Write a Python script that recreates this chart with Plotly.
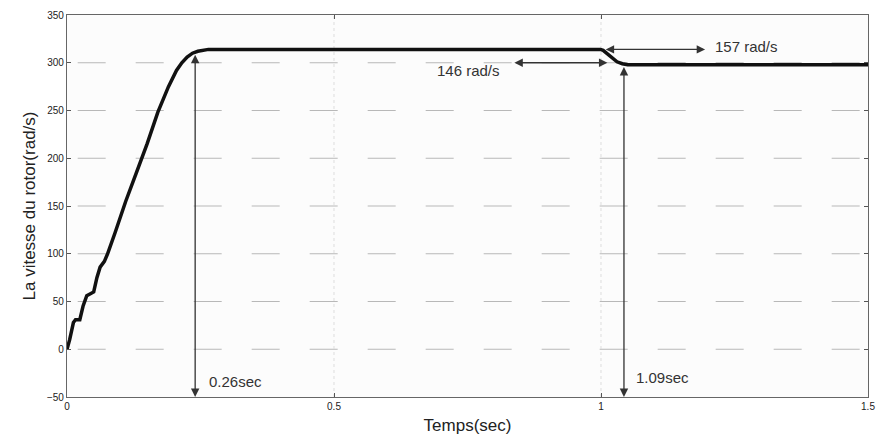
import plotly.graph_objects as go

t = [0, 0.005, 0.012, 0.016, 0.024, 0.030, 0.037, 0.045, 0.050, 0.056, 0.062, 0.070,
     0.076, 0.09, 0.11, 0.13, 0.15, 0.17, 0.19, 0.205, 0.215, 0.225, 0.235, 0.245,
     0.255, 0.265, 0.5, 0.8, 0.999, 1.004, 1.01, 1.02, 1.03, 1.04, 1.05, 1.2, 1.5]
w = [0, 10, 28, 31, 31, 45, 56, 58, 60, 75, 86, 92,
     100, 122, 155, 185, 215, 248, 275, 292, 300, 306, 310, 312,
     313, 314, 314, 314, 314, 313, 310, 305, 301, 299, 298, 298, 298]

x_ticks = [0, 0.5, 1, 1.5]
x_tick_text = ["0", "0.5", "1", "1.5"]
y_ticks = [-50, 0, 50, 100, 150, 200, 250, 300, 350]
grid_y = [0, 50, 100, 150, 200, 250, 300]
grid_x = [0.5, 1.0]

fig = go.Figure()
fig.add_trace(go.Scatter(x=t, y=w, mode="lines",
                         line=dict(color="#111111", width=3.5), showlegend=False))

shapes = []
for gy in grid_y:
    shapes.append(dict(type="line", xref="x", yref="y", x0=0.02, x1=1.5, y0=gy, y1=gy,
                       line=dict(color="#b8b8b8", width=1.2, dash="28px,30px"), layer="below"))
for gx in grid_x:
    shapes.append(dict(type="line", xref="x", yref="y", x0=gx, x1=gx, y0=-50, y1=350,
                       line=dict(color="#dddddd", width=1, dash="dot"), layer="below"))
fig.update_layout(shapes=shapes)

ac = "#333333"
def arrow(x0, y0, x1, y1):
    fig.add_annotation(x=x1, y=y1, ax=x0, ay=y0, xref="x", yref="y", axref="x", ayref="y",
                       text="", showarrow=True, arrowhead=2, startarrowhead=2,
                       arrowside="end+start", arrowsize=1.3, startarrowsize=1.3,
                       arrowwidth=1.3, arrowcolor=ac)

arrow(0.24, 310, 0.24, -50)
arrow(1.043, 297, 1.043, -50)
arrow(1.006, 314, 1.195, 314)
arrow(0.835, 300, 1.012, 300)

tf = dict(family="Arial, Liberation Sans, sans-serif", size=15, color="#333333")
fig.add_annotation(x=0.262, y=-34, xref="x", yref="y", text="0.26sec", showarrow=False,
                   xanchor="left", font=tf)
fig.add_annotation(x=1.062, y=-30, xref="x", yref="y", text="1.09sec", showarrow=False,
                   xanchor="left", font=tf)
fig.add_annotation(x=1.21, y=317, xref="x", yref="y", text="157 rad/s", showarrow=False,
                   xanchor="left", font=tf)
fig.add_annotation(x=0.69, y=292, xref="x", yref="y", text="146 rad/s", showarrow=False,
                   xanchor="left", font=tf)

tick_font = dict(family="Arial, Liberation Sans, sans-serif", size=10, color="#222222")
fig.update_xaxes(range=[0, 1.5], tickvals=x_ticks, ticktext=x_tick_text, ticks="inside",
                 ticklen=4, tickcolor="#555", showline=True, linecolor="#666", linewidth=1.2,
                 mirror="ticks", showgrid=False, zeroline=False, tickfont=tick_font,
                 title=dict(text="Temps(sec)", font=dict(family="Arial, Liberation Sans, sans-serif",
                                                          size=17, color="#222"), standoff=8))
fig.update_yaxes(range=[-50, 350], tickvals=y_ticks, ticks="inside", ticklen=4,
                 tickcolor="#555", showline=True, linecolor="#666", linewidth=1.2,
                 mirror="ticks", showgrid=False, zeroline=False, tickfont=tick_font,
                 title=dict(text="La vitesse du rotor(rad/s)",
                            font=dict(family="Arial, Liberation Sans, sans-serif", size=17, color="#222"),
                            standoff=6))
fig.update_layout(width=884, height=443, margin=dict(l=67, r=9, t=12, b=46),
                  paper_bgcolor="white", plot_bgcolor="#fcfcfc")
fig.write_html("out.html")
